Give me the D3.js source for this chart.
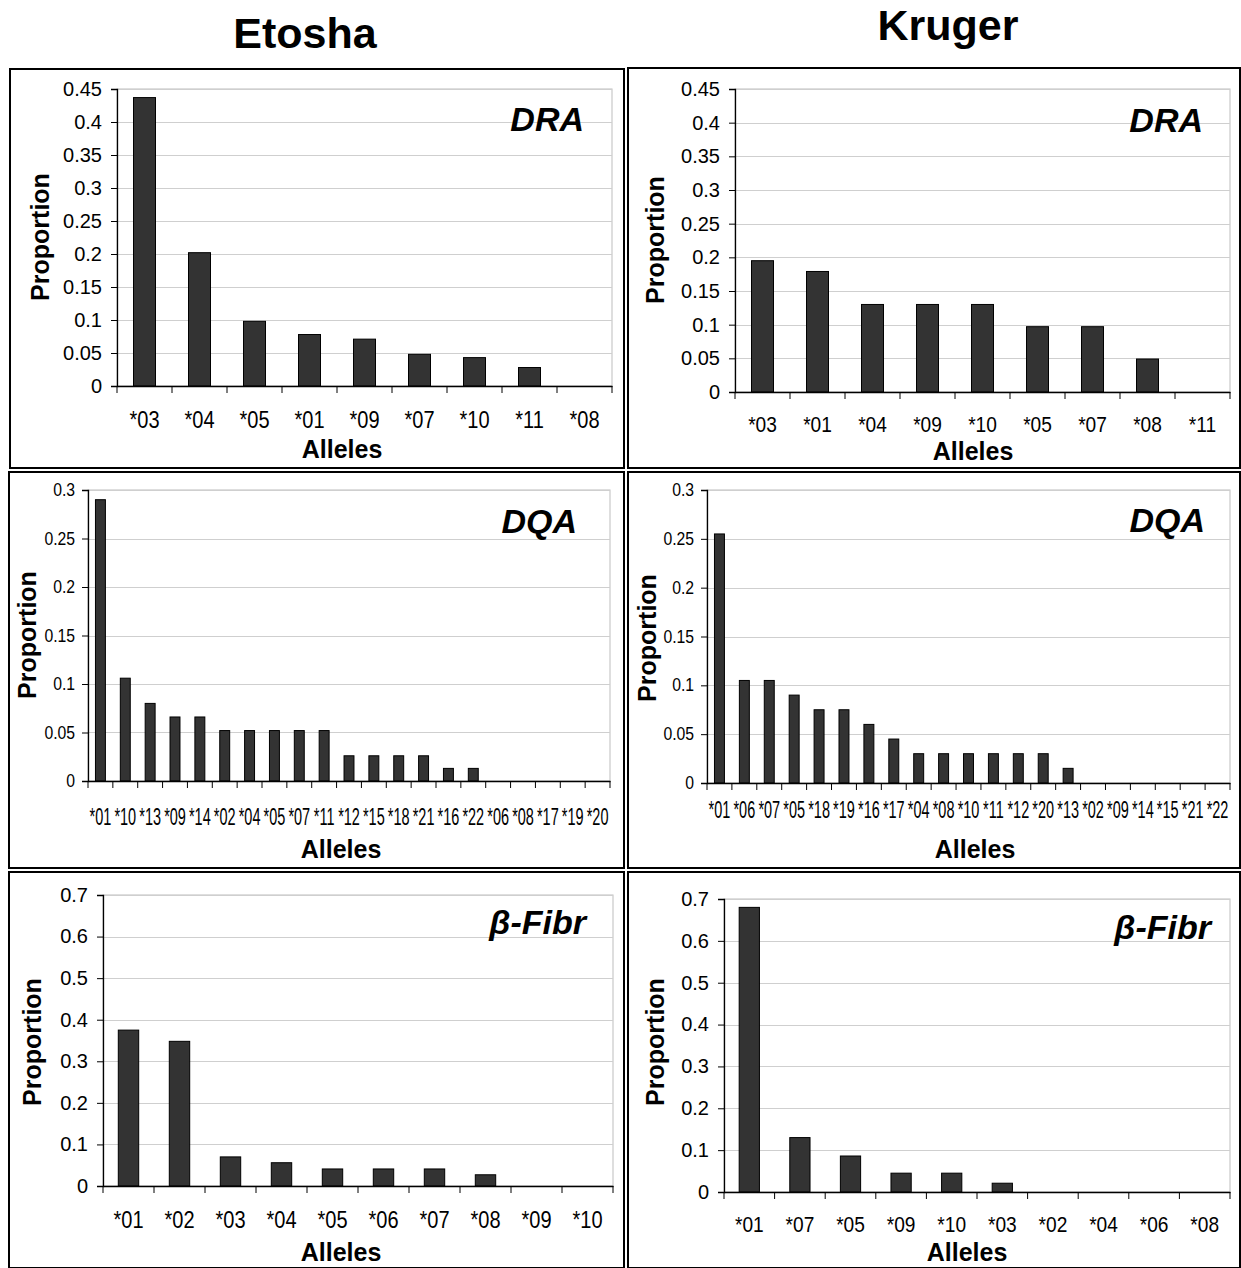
<!DOCTYPE html>
<html lang="en">
<head>
<meta charset="UTF-8">
<title>Allele proportions</title>
<script src="https://cdn.jsdelivr.net/npm/d3@7"></script>
<style>
  body { margin: 0; background: #fff; }
  svg { display: block; font-family: "Liberation Sans", Arial, sans-serif; }
  .tick text { fill: #000; }
</style>
</head>
<body>
<div id="chart-space"></div>
<script>
// ---- data ----
var etoshaDraAlleles = ["*03", "*04", "*05", "*01", "*09", "*07", "*10", "*11", "*08"];
var etoshaDraValues  = [0.437, 0.202, 0.098, 0.078, 0.071, 0.048, 0.043, 0.028, 0];

var krugerDraAlleles = ["*03", "*01", "*04", "*09", "*10", "*05", "*07", "*08", "*11"];
var krugerDraValues  = [0.195, 0.179, 0.130, 0.130, 0.130, 0.097, 0.097, 0.049, 0];

var etoshaDqaAlleles = ["*01", "*10", "*13", "*09", "*14", "*02", "*04", "*05", "*07", "*11", "*12",
                        "*15", "*18", "*21", "*16", "*22", "*06", "*08", "*17", "*19", "*20"];
var etoshaDqaValues  = [0.290, 0.106, 0.080, 0.066, 0.066, 0.052, 0.052, 0.052, 0.052, 0.052, 0.026,
                        0.026, 0.026, 0.026, 0.013, 0.013, 0, 0, 0, 0, 0];

var krugerDqaAlleles = ["*01", "*06", "*07", "*05", "*18", "*19", "*16", "*17", "*04", "*08", "*10",
                        "*11", "*12", "*20", "*13", "*02", "*09", "*14", "*15", "*21", "*22"];
var krugerDqaValues  = [0.255, 0.105, 0.105, 0.090, 0.075, 0.075, 0.060, 0.045, 0.030, 0.030, 0.030,
                        0.030, 0.030, 0.030, 0.015, 0, 0, 0, 0, 0, 0];

var etoshaFibrAlleles = ["*01", "*02", "*03", "*04", "*05", "*06", "*07", "*08", "*09", "*10"];
var etoshaFibrValues  = [0.375, 0.348, 0.070, 0.056, 0.041, 0.041, 0.041, 0.027, 0, 0];

var krugerFibrAlleles = ["*01", "*07", "*05", "*09", "*10", "*03", "*02", "*04", "*06", "*08"];
var krugerFibrValues  = [0.680, 0.130, 0.086, 0.045, 0.045, 0.021, 0, 0, 0, 0];

var draTicks  = [0, 0.05, 0.1, 0.15, 0.2, 0.25, 0.3, 0.35, 0.4, 0.45];
var dqaTicks  = [0, 0.05, 0.1, 0.15, 0.2, 0.25, 0.3];
var fibrTicks = [0, 0.1, 0.2, 0.3, 0.4, 0.5, 0.6, 0.7];

var width = 1241;
var height = 1268;

var svg = d3.select("#chart-space")
    .append("svg")
    .attr("width", width)
    .attr("height", height);

// column titles
svg.append("text").attr("x", 305).attr("y", 48).attr("text-anchor", "middle")
    .attr("font-size", 43).attr("font-weight", "bold").text("Etosha");
svg.append("text").attr("x", 948).attr("y", 40).attr("text-anchor", "middle")
    .attr("font-size", 43).attr("font-weight", "bold").text("Kruger");

// panel layouts (box + plot area + label spots)
// the original uses a narrow face for some tick text, so it is squeezed horizontally
var panels = [
    {alleles: etoshaDraAlleles, values: etoshaDraValues, ticks: draTicks, gene: "DRA",
     box: [10, 69, 624, 468], plot: [117, 89, 612, 386],
     yFont: 20, ySqueeze: 1, yGap: 15, xFont: 23, xSqueeze: 0.87,
     xLabY: 420, allelesX: 342, allelesY: 458, propX: 40, propY: 237, geneX: 584, geneY: 131},
    {alleles: krugerDraAlleles, values: krugerDraValues, ticks: draTicks, gene: "DRA",
     box: [628, 68, 1240, 468], plot: [735, 89, 1230, 392],
     yFont: 20, ySqueeze: 1, yGap: 15, xFont: 22, xSqueeze: 0.87,
     xLabY: 424, allelesX: 973, allelesY: 460, propX: 655, propY: 240, geneX: 1203, geneY: 132},
    {alleles: etoshaDqaAlleles, values: etoshaDqaValues, ticks: dqaTicks, gene: "DQA",
     box: [9, 472, 624, 868], plot: [88, 490, 610, 781],
     yFont: 17.5, ySqueeze: 0.9, yGap: 13, xFont: 23, xSqueeze: 0.63,
     xLabY: 817, allelesX: 341, allelesY: 858, propX: 27, propY: 635, geneX: 577, geneY: 533},
    {alleles: krugerDqaAlleles, values: krugerDqaValues, ticks: dqaTicks, gene: "DQA",
     box: [628, 472, 1240, 868], plot: [707, 490, 1230, 783],
     yFont: 17.5, ySqueeze: 0.9, yGap: 13, xFont: 23, xSqueeze: 0.63,
     xLabY: 810, allelesX: 975, allelesY: 858, propX: 647, propY: 638, geneX: 1205, geneY: 532},
    {alleles: etoshaFibrAlleles, values: etoshaFibrValues, ticks: fibrTicks, gene: "\u03b2-Fibr",
     box: [9, 872, 624, 1268], plot: [103, 895, 613, 1186],
     yFont: 20, ySqueeze: 1, yGap: 15, xFont: 23, xSqueeze: 0.87,
     xLabY: 1220, allelesX: 341, allelesY: 1261, propX: 32, propY: 1042, geneX: 586, geneY: 934},
    {alleles: krugerFibrAlleles, values: krugerFibrValues, ticks: fibrTicks, gene: "\u03b2-Fibr",
     box: [628, 872, 1240, 1268], plot: [724, 899, 1230, 1192],
     yFont: 20, ySqueeze: 1, yGap: 15, xFont: 22, xSqueeze: 0.87,
     xLabY: 1224, allelesX: 967, allelesY: 1261, propX: 655, propY: 1042, geneX: 1211, geneY: 939}
];

function fmt(d) { return String(Math.round(d * 100) / 100); }

panels.forEach(function(p) {
    var g = svg.append("g");
    var data = p.alleles.map(function(a, i) { return {allele: a, value: p.values[i]}; });

    // panel frame
    g.append("rect")
        .attr("x", p.box[0]).attr("y", p.box[1])
        .attr("width", p.box[2] - p.box[0]).attr("height", p.box[3] - p.box[1])
        .attr("fill", "none").attr("stroke", "#000").attr("stroke-width", 2);

    var xScale = d3.scaleBand()
        .domain(p.alleles)
        .range([p.plot[0], p.plot[2]])
        .paddingInner(0.6)
        .paddingOuter(0.3);

    var yScale = d3.scaleLinear()
        .domain([0, p.ticks[p.ticks.length - 1]])
        .range([p.plot[3], p.plot[1]]);

    // plot area outline
    g.append("rect")
        .attr("x", p.plot[0]).attr("y", p.plot[1])
        .attr("width", p.plot[2] - p.plot[0]).attr("height", p.plot[3] - p.plot[1])
        .attr("fill", "none").attr("stroke", "#bdbdbd").attr("stroke-width", 1);

    // gridlines
    g.selectAll(".grid")
        .data(p.ticks.slice(1))
        .join("line")
        .attr("x1", p.plot[0]).attr("x2", p.plot[2])
        .attr("y1", function(d) { return Math.round(yScale(d)) + 0.5; })
        .attr("y2", function(d) { return Math.round(yScale(d)) + 0.5; })
        .attr("stroke", "#cfcfcf").attr("stroke-width", 1.2);

    // bars
    g.selectAll(".bar")
        .data(data.filter(function(d) { return d.value > 0; }))
        .join("rect")
        .attr("x", function(d) { return xScale(d.allele); })
        .attr("y", function(d) { return yScale(d.value); })
        .attr("width", xScale.bandwidth())
        .attr("height", function(d) { return yScale(0) - yScale(d.value); })
        .attr("fill", "#333333")
        .attr("stroke", "#000").attr("stroke-width", 1);

    // y axis
    var yAxis = g.append("g")
        .attr("transform", "translate(" + p.plot[0] + ",0)")
        .call(d3.axisLeft(yScale).tickValues(p.ticks).tickFormat(fmt).tickSize(6));
    yAxis.select(".domain").attr("stroke", "#000").attr("stroke-width", 1.3);
    yAxis.selectAll(".tick line").attr("stroke", "#000");
    yAxis.selectAll("text")
        .attr("font-size", p.yFont)
        .attr("x", -p.yGap / p.ySqueeze)
        .attr("transform", "scale(" + p.ySqueeze + ",1)");

    // x axis: labels from the band scale, ticks at band edges
    var xAxis = g.append("g")
        .attr("transform", "translate(0," + p.plot[3] + ")")
        .call(d3.axisBottom(xScale).tickSize(0).tickPadding(0));
    xAxis.select(".domain").attr("stroke", "#000").attr("stroke-width", 1.3);
    xAxis.selectAll("text")
        .attr("font-size", p.xFont)
        .attr("y", p.xLabY - p.plot[3])
        .attr("dy", "0.35em")
        .attr("transform", "scale(" + p.xSqueeze + ",1)");

    var step = xScale.step();
    var edges = p.alleles.map(function(a) { return xScale(a) - step * 0.3; })
        .concat([p.plot[2]]);
    g.selectAll(".xedge")
        .data(edges)
        .join("line")
        .attr("x1", function(d) { return d; }).attr("x2", function(d) { return d; })
        .attr("y1", p.plot[3]).attr("y2", p.plot[3] + 7)
        .attr("stroke", "#000");

    // axis titles
    g.append("text")
        .attr("x", p.allelesX).attr("y", p.allelesY)
        .attr("text-anchor", "middle").attr("font-size", 25).attr("font-weight", "bold")
        .text("Alleles");
    g.append("text")
        .attr("transform", "translate(" + (p.propX + 9) + "," + p.propY + ") rotate(-90)")
        .attr("text-anchor", "middle").attr("font-size", 25).attr("font-weight", "bold")
        .text("Proportion");

    // gene name
    g.append("text")
        .attr("x", p.geneX).attr("y", p.geneY)
        .attr("text-anchor", "end").attr("font-size", 34)
        .attr("font-weight", "bold").attr("font-style", "italic")
        .text(p.gene);
});
</script>
</body>
</html>
